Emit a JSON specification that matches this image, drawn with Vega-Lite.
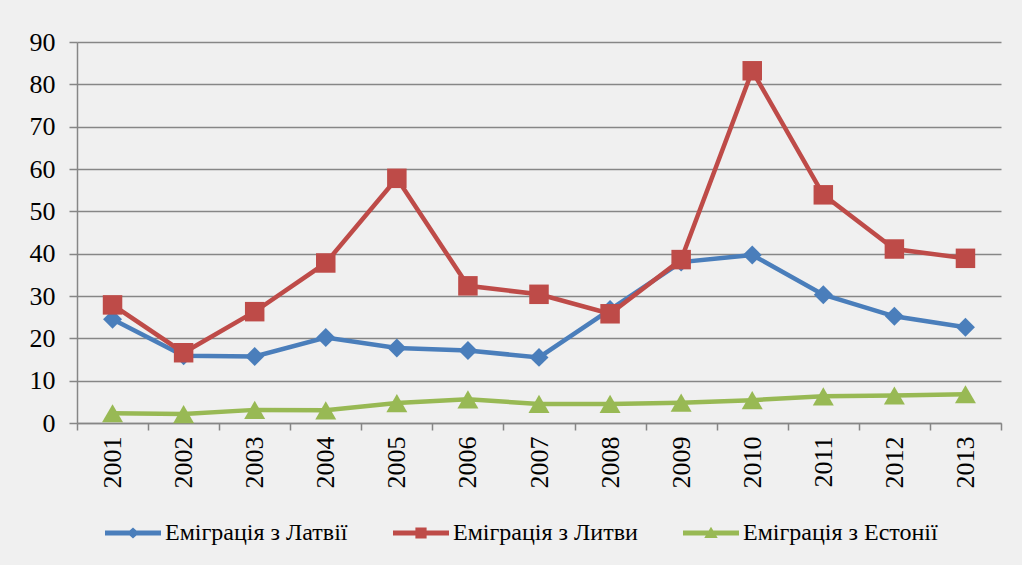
{
  "$schema": "https://vega.github.io/schema/vega-lite/v6.json",
  "autosize": "none",
  "width": 924,
  "height": 381,
  "padding": {"left": 77, "top": 42, "right": 21, "bottom": 142},
  "background": "#f0f0f0",
  "config": {
    "view": {"stroke": null},
    "axis": {
      "labelFont": "Liberation Serif",
      "labelFontSize": 26,
      "labelColor": "#000000",
      "domainColor": "#868686",
      "domainWidth": 1.5,
      "tickColor": "#868686",
      "tickWidth": 1.5,
      "gridColor": "#868686",
      "gridWidth": 1.5,
      "gridOpacity": 1,
      "title": null
    }
  },
  "data": {
    "values": [
      {"year": "2001", "series": "Еміграція з Латвії", "value": 24.5},
      {"year": "2002", "series": "Еміграція з Латвії", "value": 15.9},
      {"year": "2003", "series": "Еміграція з Латвії", "value": 15.7},
      {"year": "2004", "series": "Еміграція з Латвії", "value": 20.2},
      {"year": "2005", "series": "Еміграція з Латвії", "value": 17.7},
      {"year": "2006", "series": "Еміграція з Латвії", "value": 17.1},
      {"year": "2007", "series": "Еміграція з Латвії", "value": 15.5},
      {"year": "2008", "series": "Еміграція з Латвії", "value": 26.8},
      {"year": "2009", "series": "Еміграція з Латвії", "value": 38.0},
      {"year": "2010", "series": "Еміграція з Латвії", "value": 39.7},
      {"year": "2011", "series": "Еміграція з Латвії", "value": 30.3},
      {"year": "2012", "series": "Еміграція з Латвії", "value": 25.2},
      {"year": "2013", "series": "Еміграція з Латвії", "value": 22.6},
      {"year": "2001", "series": "Еміграція з Литви", "value": 27.9},
      {"year": "2002", "series": "Еміграція з Литви", "value": 16.6},
      {"year": "2003", "series": "Еміграція з Литви", "value": 26.3},
      {"year": "2004", "series": "Еміграція з Литви", "value": 37.8},
      {"year": "2005", "series": "Еміграція з Литви", "value": 57.8},
      {"year": "2006", "series": "Еміграція з Литви", "value": 32.4},
      {"year": "2007", "series": "Еміграція з Литви", "value": 30.4},
      {"year": "2008", "series": "Еміграція з Литви", "value": 25.8},
      {"year": "2009", "series": "Еміграція з Литви", "value": 38.6},
      {"year": "2010", "series": "Еміграція з Литви", "value": 83.2},
      {"year": "2011", "series": "Еміграція з Литви", "value": 53.9},
      {"year": "2012", "series": "Еміграція з Литви", "value": 41.1},
      {"year": "2013", "series": "Еміграція з Литви", "value": 38.9},
      {"year": "2001", "series": "Еміграція з Естонії", "value": 2.3},
      {"year": "2002", "series": "Еміграція з Естонії", "value": 2.1},
      {"year": "2003", "series": "Еміграція з Естонії", "value": 3.1},
      {"year": "2004", "series": "Еміграція з Естонії", "value": 3.0},
      {"year": "2005", "series": "Еміграція з Естонії", "value": 4.7},
      {"year": "2006", "series": "Еміграція з Естонії", "value": 5.6},
      {"year": "2007", "series": "Еміграція з Естонії", "value": 4.5},
      {"year": "2008", "series": "Еміграція з Естонії", "value": 4.5},
      {"year": "2009", "series": "Еміграція з Естонії", "value": 4.8},
      {"year": "2010", "series": "Еміграція з Естонії", "value": 5.4},
      {"year": "2011", "series": "Еміграція з Естонії", "value": 6.3},
      {"year": "2012", "series": "Еміграція з Естонії", "value": 6.5},
      {"year": "2013", "series": "Еміграція з Естонії", "value": 6.8}
    ]
  },
  "encoding": {
    "x": {
      "field": "year",
      "type": "nominal",
      "scale": {"type": "band", "paddingInner": 0, "paddingOuter": 0},
      "axis": {
        "tickBand": "extent",
        "tickSize": 7,
        "labelAngle": 270,
        "labelAlign": "right",
        "labelBaseline": "middle",
        "labelPadding": 6,
        "grid": false
      }
    },
    "y": {
      "field": "value",
      "type": "quantitative",
      "scale": {"domain": [0, 90], "nice": false, "zero": true},
      "axis": {
        "values": [0, 10, 20, 30, 40, 50, 60, 70, 80, 90],
        "tickSize": 8,
        "labelPadding": 14,
        "grid": true
      }
    }
  },
  "layer": [
    {
      "transform": [{"filter": {"field": "series", "equal": "Еміграція з Латвії"}}],
      "mark": {
        "type": "line",
        "color": "#4A7EBB",
        "strokeWidth": 4.5,
        "point": {"shape": "diamond", "size": 360, "filled": true, "color": "#4A7EBB", "opacity": 1}
      }
    },
    {
      "transform": [{"filter": {"field": "series", "equal": "Еміграція з Литви"}}],
      "mark": {
        "type": "line",
        "color": "#BE4B48",
        "strokeWidth": 4.5,
        "point": {"shape": "square", "size": 380, "filled": true, "color": "#BE4B48", "opacity": 1}
      }
    },
    {
      "transform": [{"filter": {"field": "series", "equal": "Еміграція з Естонії"}}],
      "mark": {
        "type": "line",
        "color": "#98B954",
        "strokeWidth": 4.5,
        "point": {"shape": "triangle-up", "size": 440, "filled": true, "color": "#98B954", "opacity": 1}
      }
    },
    {
      "transform": [{"filter": "false"}],
      "mark": {"type": "point", "filled": true, "opacity": 1},
      "encoding": {
        "color": {
          "field": "series",
          "type": "nominal",
          "scale": {
            "domain": ["Еміграція з Латвії", "Еміграція з Литви", "Еміграція з Естонії"],
            "range": ["#4A7EBB", "#BE4B48", "#98B954"]
          },
          "legend": {
            "orient": "none",
            "legendX": 28,
            "legendY": 463,
            "direction": "horizontal",
            "title": null,
            "padding": 0,
            "symbolSize": 3136,
            "symbolStrokeWidth": 0,
            "labelFont": "Liberation Serif",
            "labelFontSize": 24,
            "labelColor": "#000000",
            "labelOffset": 4,
            "labelLimit": 400,
            "columnPadding": 45
          }
        },
        "shape": {
          "field": "series",
          "type": "nominal",
          "scale": {
            "domain": ["Еміграція з Латвії", "Еміграція з Литви", "Еміграція з Естонії"],
            "range": [
              "M-1,-0.09H1V0.09H-1Z M-0.22,0L0,-0.2L0.22,0L0,0.2Z",
              "M-1,-0.09H1V0.09H-1Z M-0.2,-0.2H0.2V0.2H-0.2Z",
              "M-1,-0.09H1V0.09H-1Z M0,-0.22L0.24,0.18L-0.24,0.18Z"
            ]
          },
          "legend": {
            "orient": "none",
            "legendX": 28,
            "legendY": 463,
            "direction": "horizontal",
            "title": null,
            "padding": 0,
            "symbolSize": 3136,
            "symbolStrokeWidth": 0,
            "labelFont": "Liberation Serif",
            "labelFontSize": 24,
            "labelColor": "#000000",
            "labelOffset": 4,
            "labelLimit": 400,
            "columnPadding": 45
          }
        }
      }
    }
  ]
}
